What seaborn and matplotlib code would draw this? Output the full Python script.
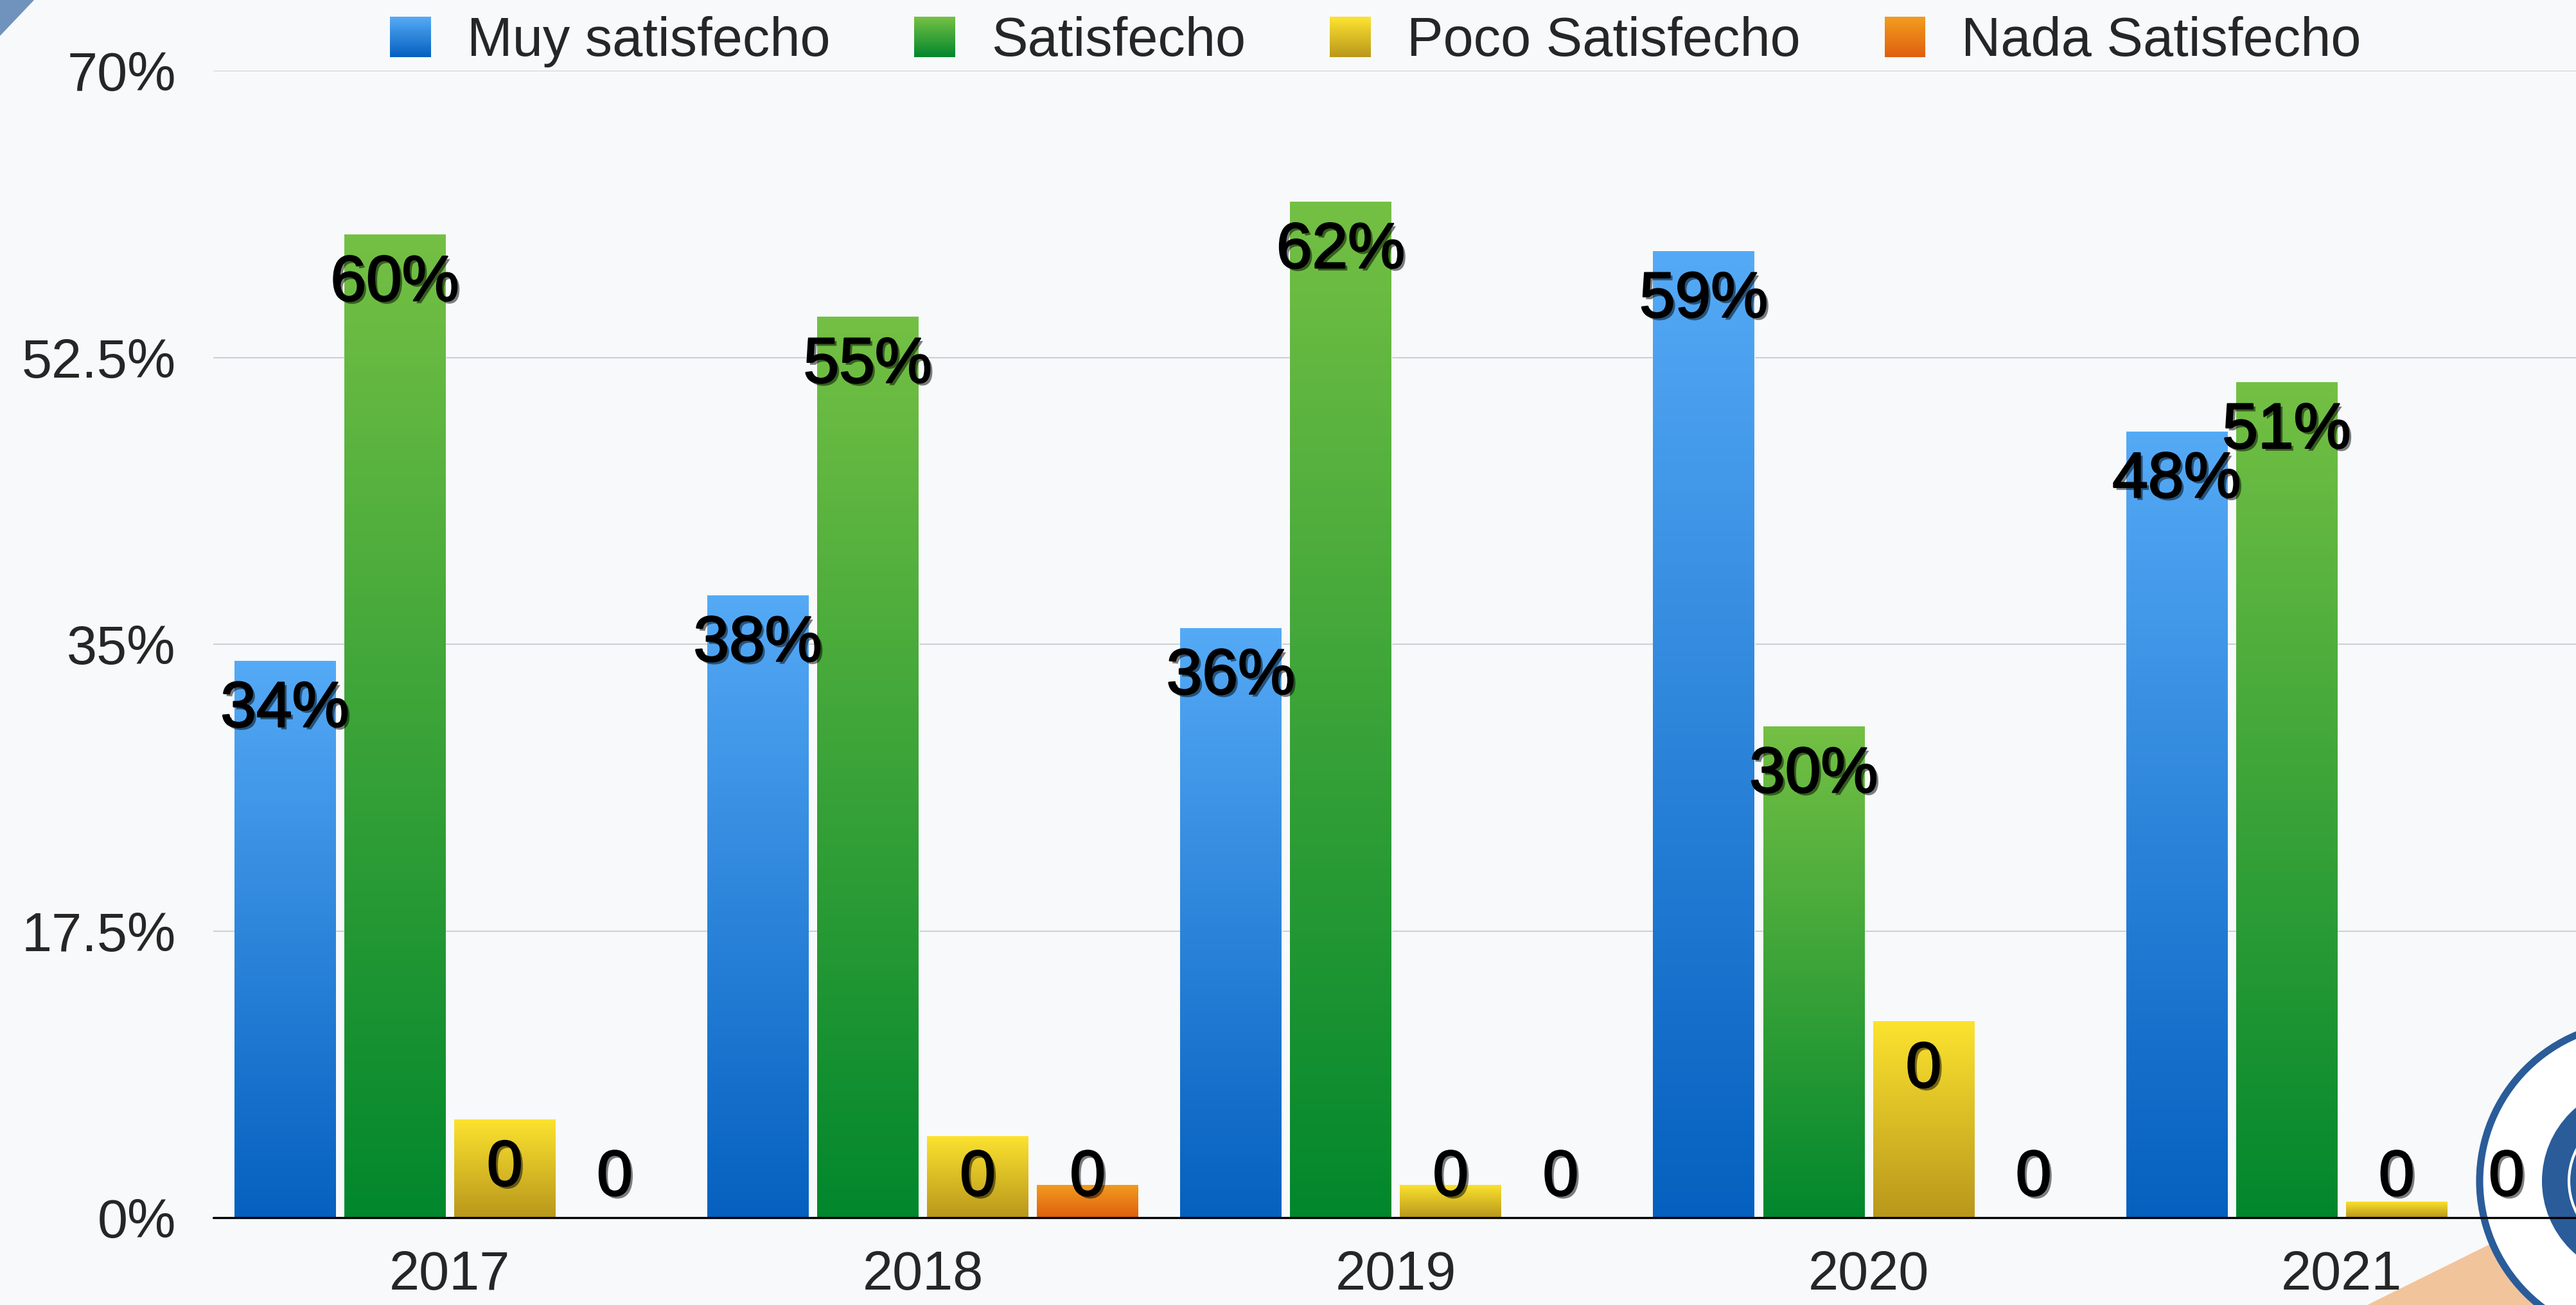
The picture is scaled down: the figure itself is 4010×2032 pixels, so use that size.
import matplotlib
matplotlib.use('Agg')
import matplotlib.pyplot as plt
import matplotlib.patheffects as pe
from matplotlib.colors import LinearSegmentedColormap, to_rgb
from matplotlib.patches import Patch, Polygon, Circle, Rectangle
from matplotlib.legend_handler import HandlerBase
import numpy as np
import pandas as pd
import seaborn as sns

# Data
years = ['2017', '2018', '2019', '2020', '2021']
series = ['Muy satisfecho', 'Satisfecho', 'Poco Satisfecho', 'Nada Satisfecho']
muy_satisfecho = [34, 38, 36, 59, 48]
satisfecho = [60, 55, 62, 30, 51]
poco_satisfecho = [6, 5, 2, 12, 1]
nada_satisfecho = [0, 2, 0, 0, 0]
# the bar labels as printed in the original (small bars all say "0")
labels_muy = ['34%', '38%', '36%', '59%', '48%']
labels_sat = ['60%', '55%', '62%', '30%', '51%']
labels_poco = ['0', '0', '0', '0', '0']
labels_nada = ['0', '0', '0', '0', '0']

y_ticks = [0, 17.5, 35, 52.5, 70]
y_tick_labels = ['0%', '17.5%', '35%', '52.5%', '70%']

# gradient colours per series (top, bottom)
grad_colors = {
    'Muy satisfecho': ('#55aaf6', '#0560bf'),
    'Satisfecho': ('#74c044', '#02872d'),
    'Poco Satisfecho': ('#fce32f', '#b9971c'),
    'Nada Satisfecho': ('#f29c20', '#df5f0e'),
}
mid_colors = {k: v[1] for k, v in grad_colors.items()}

values = [muy_satisfecho, satisfecho, poco_satisfecho, nada_satisfecho]
labels = [labels_muy, labels_sat, labels_poco, labels_nada]

rows = []
for s, vals in zip(series, values):
    for y, v in zip(years, vals):
        rows.append({'year': y, 'serie': s, 'value': v})
df = pd.DataFrame(rows)


class GradientHandler(HandlerBase):
    # legend square filled with a vertical gradient
    def create_artists(self, legend, orig_handle, xdescent, ydescent,
                       width, height, fontsize, trans):
        top, bottom = grad_colors[orig_handle.get_label()]
        top, bottom = np.array(to_rgb(top)), np.array(to_rgb(bottom))
        n = 20
        arts = []
        for i in range(n):
            t = (i + 0.5) / n
            c = bottom + (top - bottom) * t
            arts.append(Rectangle((-xdescent, -ydescent + height * i / n), width,
                                  height / n + 0.5, facecolor=c, edgecolor='none',
                                  transform=trans))
        return arts


sns.set_style('white')
plt.rcParams['font.family'] = ['Liberation Sans', 'DejaVu Sans']

fig = plt.figure(figsize=(40.1, 20.32), dpi=100, facecolor='#f8f9fb')

# background decoration (corner shapes of the slide), kept behind the axes
fig.patches.append(Polygon([[0, 1], [0.013, 1], [0, 0.973]], closed=True,
                           transform=fig.transFigure, color='#7093bd', zorder=-2))
fig.patches.append(Polygon([[0.919, 0], [1, 0], [1, 0.079]], closed=True,
                           transform=fig.transFigure, color='#f2c49c', zorder=-2))

# logo seal in the lower right corner (mostly cut off)
seal_c = (41.07, 20.32 - 18.39)
fig.patches.append(Circle(seal_c, 2.47, transform=fig.dpi_scale_trans,
                          facecolor='white', edgecolor='#2a5c9a', linewidth=8, zorder=-1))
fig.patches.append(Circle(seal_c, 1.50, transform=fig.dpi_scale_trans,
                          facecolor='#2a5c9a', edgecolor='none', zorder=-1))
fig.patches.append(Circle(seal_c, 1.08, transform=fig.dpi_scale_trans,
                          facecolor='none', edgecolor='white', linewidth=3, zorder=-1))

ax = fig.add_axes([0.0828, 0.0667, 0.918, 0.879])
ax.set_facecolor('none')

sns.barplot(data=df, x='year', y='value', hue='serie', hue_order=series,
            palette=mid_colors, width=0.93, gap=0.08, saturation=1,
            legend=False, ax=ax, zorder=3)

# gradient fill clipped to each bar
for cont, s in zip(ax.containers, series):
    top, bottom = grad_colors[s]
    cmap = LinearSegmentedColormap.from_list(s, [bottom, top])
    grad = np.linspace(0, 1, 256).reshape(-1, 1)
    for bar in cont:
        h = bar.get_height()
        if h <= 0:
            continue
        x0 = bar.get_x()
        w = bar.get_width()
        im = ax.imshow(grad, extent=[x0, x0 + w, 0, h], origin='lower',
                       aspect='auto', cmap=cmap, zorder=3.5)
        im.set_clip_path(bar)

ax.set_xlim(-0.5, 4.5)
ax.set_ylim(0, 70)
ax.set_aspect('auto')

# bar labels
fx = [pe.SimplePatchShadow(offset=(3, -3), shadow_rgbFace='black', alpha=0.5),
      pe.Stroke(linewidth=1.8, foreground='black'), pe.Normal()]
for cont, labs in zip(ax.containers, labels):
    for bar, lab in zip(cont, labs):
        cx = bar.get_x() + bar.get_width() / 2
        ty = max(bar.get_height() - 3.0, 2.4)
        ax.text(cx, ty, lab, ha='center', va='center', fontsize=72,
                color='black', path_effects=fx, zorder=6)

ax.set_yticks(y_ticks)
ax.set_yticklabels(y_tick_labels)
ax.grid(axis='y', color='#cfd0d3', linewidth=1.5, zorder=0)
ax.grid(axis='x', visible=False)
ax.axhline(0, color='black', linewidth=2.4, zorder=7, clip_on=False)
ax.tick_params(axis='both', length=0, labelsize=61)
ax.tick_params(axis='y', pad=42)
ax.tick_params(axis='x', pad=36)
ax.set_xlabel('')
ax.set_ylabel('')
for sp in ax.spines.values():
    sp.set_visible(False)

handles = [Patch(facecolor=grad_colors[s][1], edgecolor='none', label=s) for s in series]
fig.legend(handles=handles, loc='center', bbox_to_anchor=(0.534, 0.968), ncol=4,
           frameon=False, fontsize=61, handlelength=0.75, handleheight=0.75,
           handletextpad=0.66, columnspacing=1.55,
           handler_map={Patch: GradientHandler()})

fig.savefig('out.png', dpi=100, facecolor=fig.get_facecolor())
